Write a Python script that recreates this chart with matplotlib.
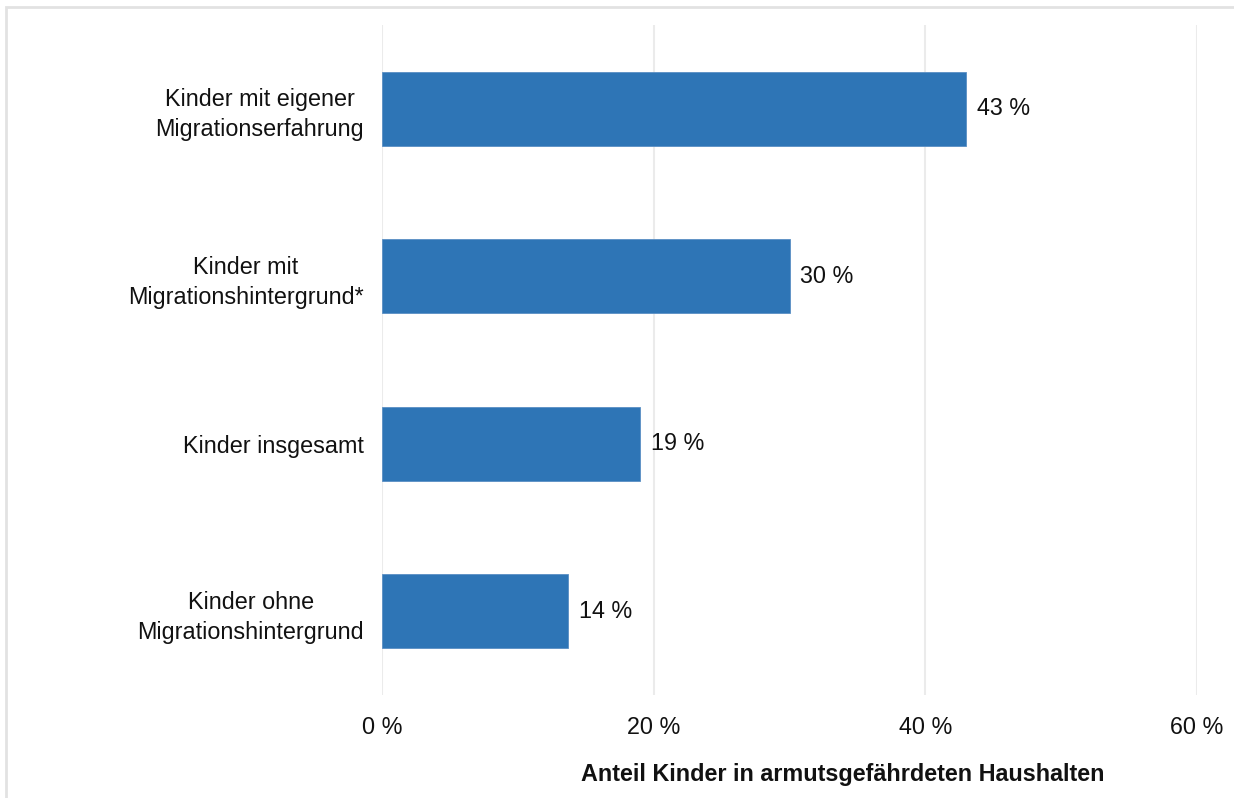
import matplotlib
matplotlib.use("Agg")
import matplotlib.pyplot as plt
from matplotlib.patches import Rectangle

categories = [
    "Kinder mit eigener\nMigrationserfahrung",
    "Kinder mit\nMigrationshintergrund*",
    "Kinder insgesamt",
    "Kinder ohne\nMigrationshintergrund",
]
values = [43.0, 30.0, 19.0, 13.7]
xticks = [0, 20, 40, 60]
xlabel = "Anteil Kinder in armutsgefährdeten Haushalten"

plt.rcParams['font.family'] = ['Liberation Sans', 'DejaVu Sans']
plt.rcParams['font.size'] = 16.8

W, H = 1234, 798
fig = plt.figure(figsize=(W / 100, H / 100), dpi=100)
ax = fig.add_axes([382 / W, 1 - 695 / H, (1197 - 382) / W, (695 - 25) / H])

ypos = list(range(len(categories)))
ax.barh(ypos, values, height=0.44, color="#2E75B6", edgecolor="#5a8fc4", linewidth=0.6, zorder=3)
for y, v in zip(ypos, values):
    ax.text(v + 0.8, y, f"{round(v):d} %", va="center", ha="left", fontsize=16.8, color="#111111")

ax.set_ylim(len(categories) - 0.5, -0.5)
ax.set_xlim(0, 60)
ax.set_yticks(ypos)
ax.set_yticklabels(categories, multialignment="center", linespacing=1.4, color="#111111")
ax.set_xticks(xticks)
ax.set_xticklabels([f"{t} %" for t in xticks], color="#111111")
ax.tick_params(axis="both", length=0)
ax.tick_params(axis="y", pad=13)
ax.tick_params(axis="x", pad=15)
ax.grid(axis="x", color="#ebebeb", linewidth=1.5, zorder=0)
for s in ax.spines.values():
    s.set_visible(False)

fig.text(843 / W, 1 - 775 / H, xlabel, ha="center", va="center", fontsize=16.8, fontweight="bold", color="#111111")

fig.patches.append(Rectangle((6 / W, -0.1), 1.2, 1 - 7 / H + 0.1, transform=fig.transFigure,
                             fill=False, edgecolor="#e2e2e2", linewidth=2))

fig.savefig("out.png", dpi=100)
